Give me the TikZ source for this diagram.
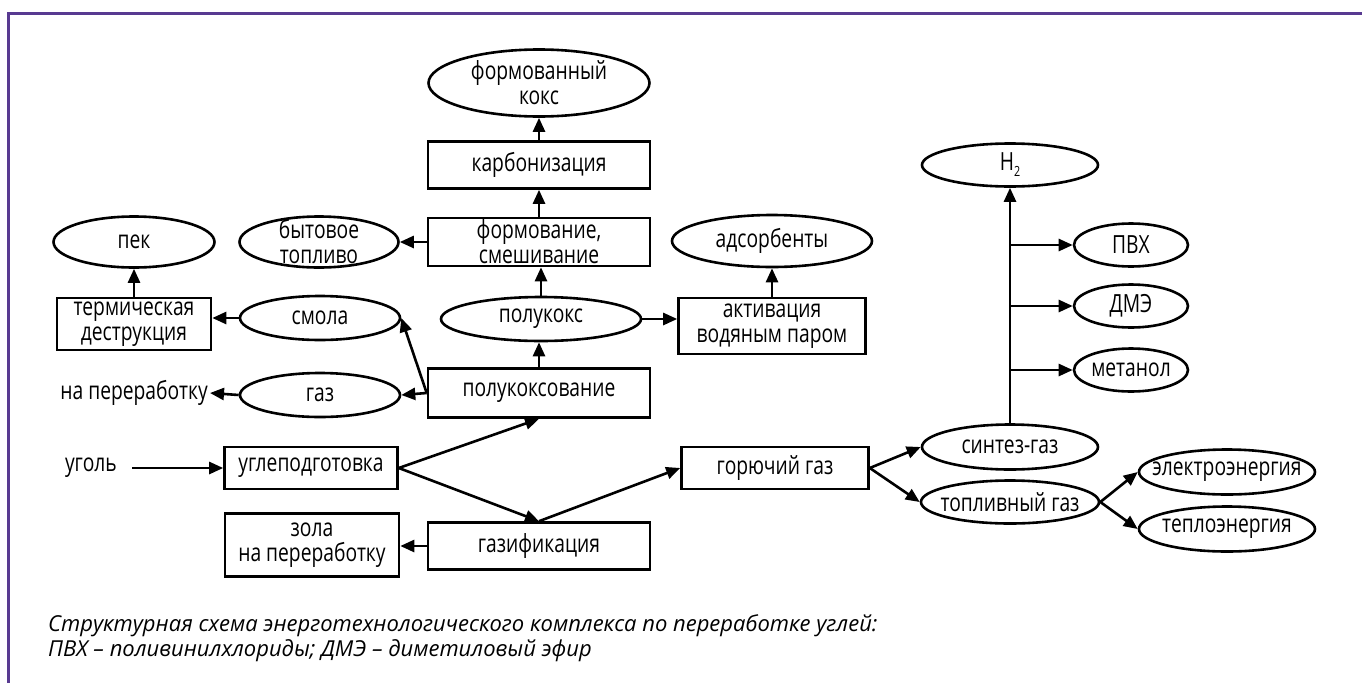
\documentclass[tikz,border=0pt]{standalone}
\usepackage{fontspec}
\setmainfont{Open Sans}
\newfontfamily\dfont{Open Sans}[FakeStretch=0.77]
\newfontfamily\capfont{Open Sans}
\usetikzlibrary{shapes.geometric,arrows.meta}
\definecolor{framec}{RGB}{88,58,145}
\begin{document}
\begin{tikzpicture}[x=1pt,y=-1pt,
 every node/.style={font=\dfont\fontsize{25}{25}\selectfont},
 bx/.style 2 args={draw, rectangle, line width=2.6pt, minimum width=#1, minimum height=#2, inner sep=0pt, align=center},
 el/.style 2 args={draw, ellipse, line width=2.6pt, minimum width=#1, minimum height=#2, inner xsep=-20pt, inner ysep=-12pt, align=center},
 ar/.style={line width=2.6pt, -{Triangle[length=14pt,width=12pt]}},
 captext/.style={anchor=base west, inner sep=0pt, font=\capfont\itshape\fontsize{22}{27}\selectfont},
]
\useasboundingbox (0,0) rectangle (1362,683);
\draw[line width=3pt, framec] (7,13.5) -- (1362,13.5);
\draw[line width=3pt, framec] (8.5,12) -- (8.5,683);

% central column
\node[el={221}{67}] (fk) at (539,83) {формованный\\кокс};
\node[bx={222}{47}] (karb) at (539,165) {карбонизация};
\node[bx={222}{48}] (form) at (539,242) {формование,\\смешивание};
\node[el={159}{51}] (byt) at (319,242) {бытовое\\топливо};
\node[el={161}{51}] (pek) at (134,242) {пек};
\node[el={200}{52}] (ads) at (772,241) {адсорбенты};
\node[bx={154}{52}] (term) at (134,324) {термическая\\деструкция};
\node[el={160}{44}] (smola) at (320,318) {смола};
\node[el={200}{44}] (polukoks) at (541,319) {полукокс};
\node[bx={187}{56}] (aktiv) at (772,326) {активация\\водяным паром};
\node[el={160}{44}] (gaz) at (320,395) {газ};
\node[anchor=east, inner sep=2pt] (napere) at (210,393) {на переработку};
\node[bx={222}{49}] (pkv) at (539,393) {полукоксование};
\node[anchor=east, inner sep=0pt] (ugol) at (117,468) {уголь};
\node[bx={173}{42}] (uglepod) at (311,468) {углеподготовка};
\node[bx={174}{63}] (zola) at (312,545) {зола\\на переработку};
\node[bx={222}{47}] (gazif) at (539,546) {газификация};
\node[bx={187}{42}] (gorgaz) at (775,468) {горючий газ};
\node[el={176}{45}] (sintez) at (1010,447) {синтез-газ};
\node[el={178}{43}] (toplgaz) at (1010,502) {топливный газ};
\node[el={176}{45}] (elektro) at (1227,472) {электроэнергия};
\node[el={176}{45}] (teplo) at (1227,529) {теплоэнергия};
\node[el={176}{43}] (h2) at (1010,165) {H\raisebox{-6pt}{\fontsize{14}{14}\selectfont 2}};
\node[el={114}{43}] (pvh) at (1131,245) {ПВХ};
\node[el={114}{43}] (dme) at (1131,306) {ДМЭ};
\node[el={114}{43}] (metanol) at (1131,370) {метанол};

\node[captext] (cap1) at (48,631) {Структурная схема энерготехнологического комплекса по переработке углей:};
\node[captext] (cap2) at (48,656) {ПВХ – поливинилхлориды; ДМЭ – диметиловый эфир};

% connectors
\draw[ar] (karb.north) -- (fk.south);
\draw[ar] (form.north) -- (karb.south);
\draw[ar] (form.west) -- (byt.east);
\draw[ar] (term.north) -- (pek.south);
\draw[ar] (smola.west) -- (term.east |- smola.west);
\draw[ar] (pkv.north) -- (pkv.north |- polukoks.south);
\draw[ar] (polukoks.north) -- (polukoks.north |- form.south);
\draw[ar] (polukoks.east) -- (aktiv.west |- polukoks.east);
\draw[ar] (aktiv.north) -- (ads.south);
\draw[ar] (pkv.west) -- (smola.east);
\draw[ar] (pkv.west) -- (gaz.east);
\draw[ar] (gaz.west) -- (napere.east);
\draw[ar, shorten <=15pt] (ugol.east) -- (uglepod.west);
\draw[ar] (uglepod.east) -- (pkv.south);
\draw[ar] (uglepod.east) -- (gazif.north);
\draw[ar] (gazif.west) -- (zola.east |- gazif.west);
\draw[ar] (gazif.north) -- (gorgaz.west);
\draw[ar] (gorgaz.east) -- (sintez.west);
\draw[ar] (gorgaz.east) -- (toplgaz.west);
\draw[ar] (toplgaz.east) -- (elektro.west);
\draw[ar] (toplgaz.east) -- (teplo.west);
\draw[ar] (sintez.north) -- (h2.south);
\draw[ar] (sintez.north |- pvh.west) -- (pvh.west);
\draw[ar] (sintez.north |- dme.west) -- (dme.west);
\draw[ar] (sintez.north |- metanol.west) -- (metanol.west);
\end{tikzpicture}
\end{document}
